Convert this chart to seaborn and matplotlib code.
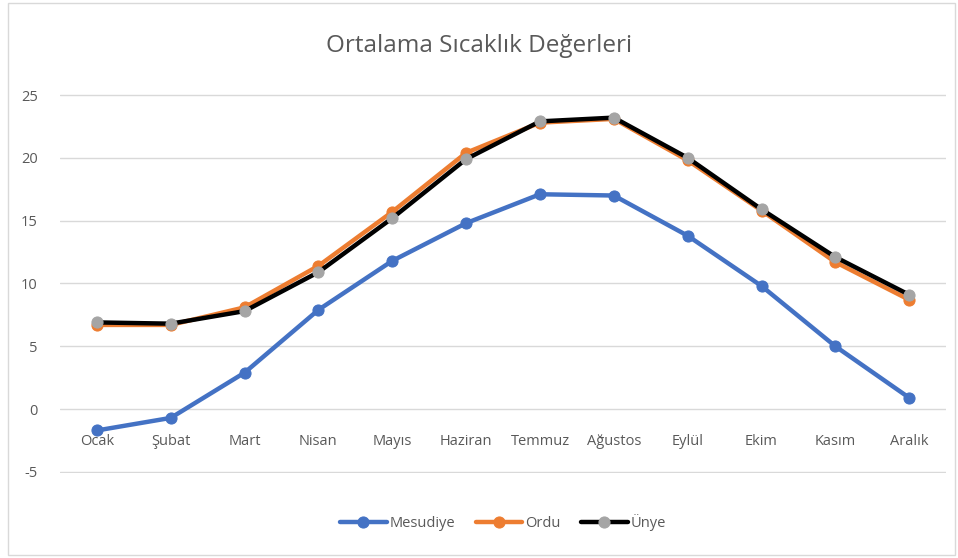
import matplotlib

matplotlib.use("Agg")
import matplotlib.pyplot as plt
import pandas as pd
import seaborn as sns
from matplotlib.patches import Rectangle

months = ["Ocak", "Şubat", "Mart", "Nisan", "Mayıs", "Haziran",
          "Temmuz", "Ağustos", "Eylül", "Ekim", "Kasım", "Aralık"]
mesudiye = [-1.7, -0.7, 2.9, 7.9, 11.8, 14.8, 17.1, 17.0, 13.8, 9.8, 5.0, 0.9]
ordu = [6.7, 6.7, 8.1, 11.4, 15.7, 20.4, 22.8, 23.1, 19.8, 15.8, 11.7, 8.7]
unye = [6.9, 6.8, 7.8, 10.9, 15.2, 19.9, 22.9, 23.2, 20.0, 15.9, 12.1, 9.1]
y_ticks = [-5, 0, 5, 10, 15, 20, 25]

series = [
    ("Mesudiye", mesudiye, "#4472C4", "#4472C4"),
    ("Ordu", ordu, "#ED7D31", "#ED7D31"),
    ("Ünye", unye, "#000000", "#A5A5A5"),
]

sns.set_theme(style="white")
plt.rcParams["font.family"] = ["Open Sans", "DejaVu Sans"]
text_color = "#595959"

fig = plt.figure(figsize=(9.58, 5.58), dpi=100)
ax = fig.add_axes([0.0626, 0.152, 0.925, 0.68])

for name, values, line_color, marker_color in series:
    df = pd.DataFrame({"x": range(len(months)), "y": values})
    sns.lineplot(
        data=df, x="x", y="y", ax=ax, color=line_color, linewidth=3.2,
        marker="o", markersize=8, markerfacecolor=marker_color,
        markeredgecolor=marker_color, label=name, sort=False,
    )

ax.set_xlim(-0.5, len(months) - 0.5)
ax.set_ylim(-5.1, 25.1)
ax.set_yticks(y_ticks)
ax.set_yticklabels([str(v) for v in y_ticks])
ax.yaxis.grid(True, color="#d9d9d9", linewidth=1)
ax.set_axisbelow(True)

ax.set_xticks(range(len(months)))
ax.set_xticklabels(months)
ax.spines["bottom"].set_position(("data", 0))
for side in ["top", "right", "left", "bottom"]:
    ax.spines[side].set_visible(False)
ax.tick_params(axis="x", length=0, pad=18, labelsize=10.5, labelcolor=text_color)
ax.tick_params(axis="y", length=0, pad=16, labelsize=10.5, labelcolor=text_color)
ax.set_xlabel("")
ax.set_ylabel("")

fig.text(0.5, 0.918, "Ortalama Sıcaklık Değerleri", ha="center", va="center",
         fontsize=17.5, color=text_color)

ax.legend(loc="center", bbox_to_anchor=(0.5, -0.13), ncol=3, frameon=False,
          fontsize=10.5, labelcolor=text_color, handlelength=3.2,
          handletextpad=0.2, columnspacing=1.4)

fig.patches.append(Rectangle((0.008, 0.006), 0.989, 0.988, transform=fig.transFigure,
                             fill=False, edgecolor="#d9d9d9", linewidth=1))

fig.savefig("out.png", dpi=100)
